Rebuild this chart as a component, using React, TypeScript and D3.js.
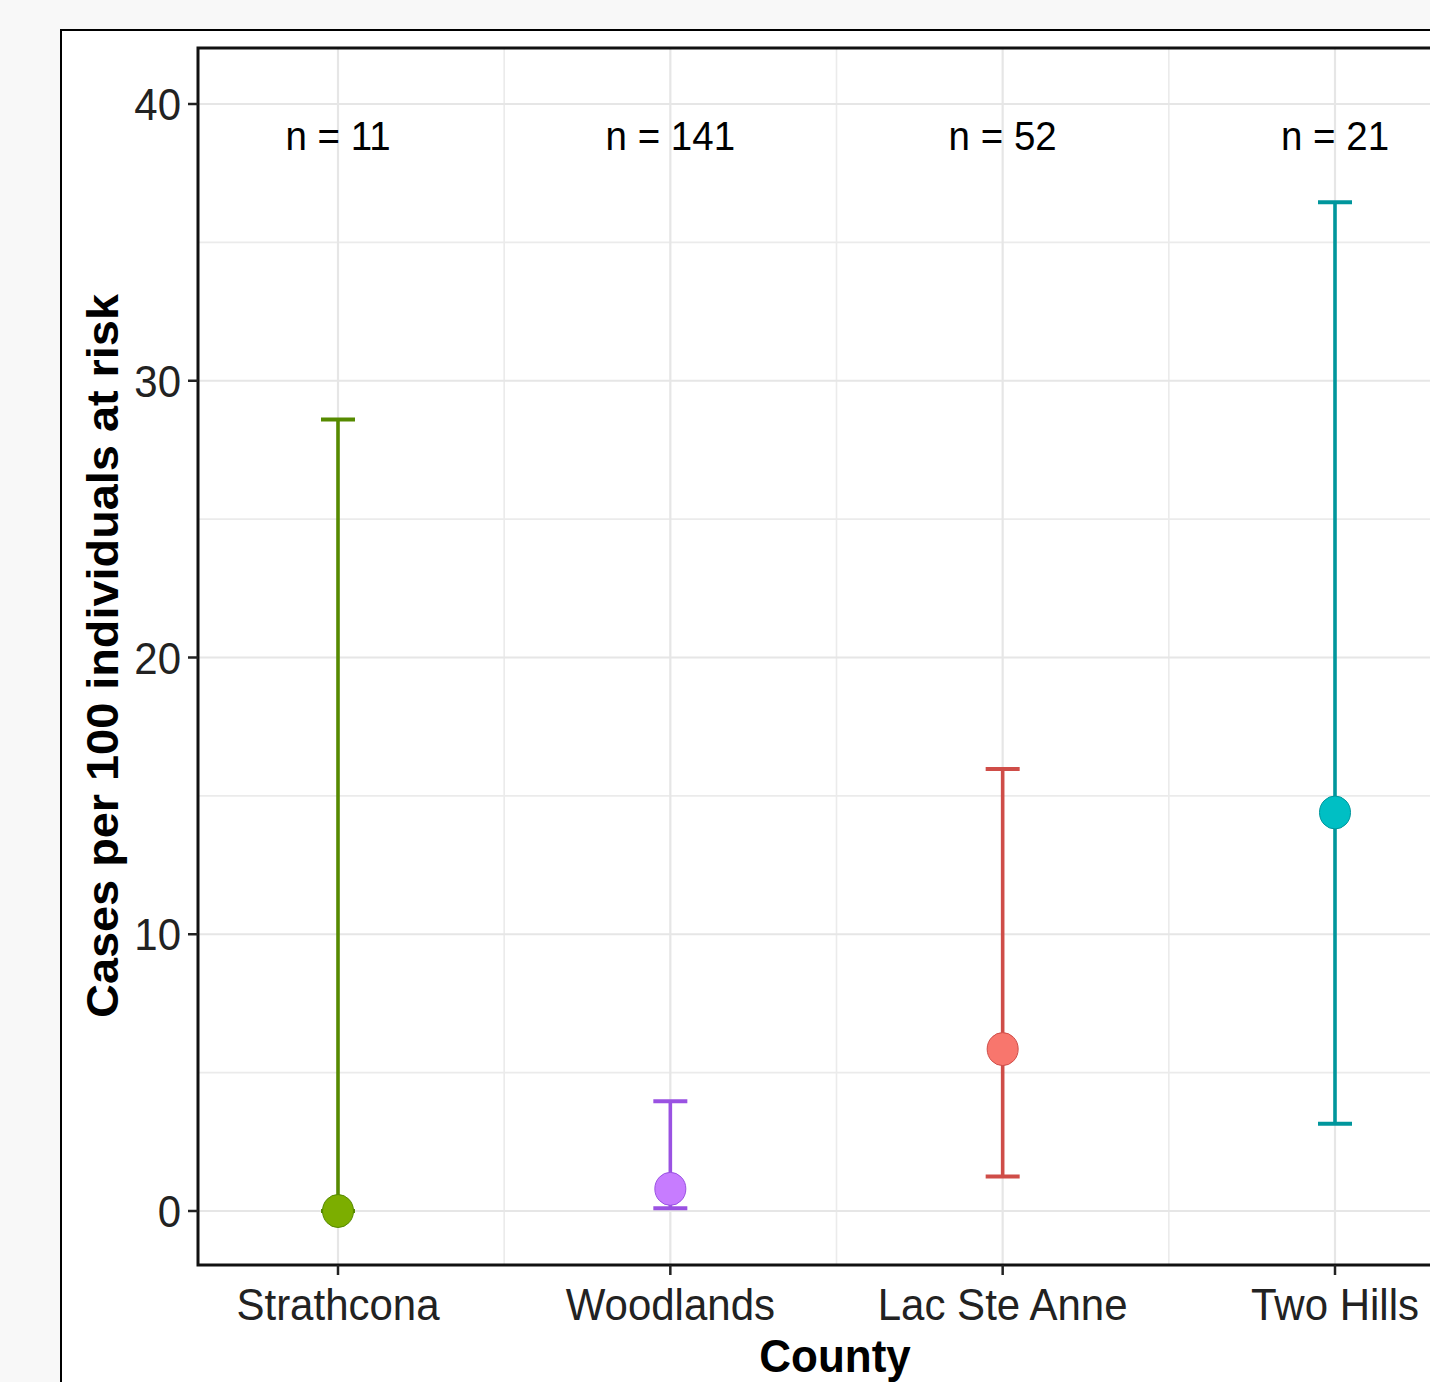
import React from "react";
import * as d3 from "d3";

const counties = ["Strathcona", "Woodlands", "Lac Ste Anne", "Two Hills"];
const estimates = [0, 0.8, 5.85, 14.4];
const lowers = [0, 0.1, 1.25, 3.15];
const uppers = [28.6, 3.97, 15.97, 36.45];
const sampleSizes = [11, 141, 52, 21];
const pointColors = ["#7CAE00", "#C77CFF", "#F8766D", "#00BFC4"];
const lineColors = ["#568a00", "#9a52e2", "#cf4d48", "#00969c"];
const yTicks = [0, 10, 20, 30, 40];
const yMinor = [5, 15, 25, 35];

const W = 1430;
const H = 1382;
const SY = 1.065;
const FONT = "'Liberation Sans', Arial, Helvetica, sans-serif";

export default function App() {
  const panel = { left: 198, top: 48, right: 1480, bottom: 1265 };
  const x = d3.scalePoint<string>().domain(counties).range([338, 1335]);
  const y = d3.scaleLinear().domain([0, 40]).range([1211, 104]);
  const step = x.step();
  const xMinor = counties.slice(0, -1).map((c) => (x(c) as number) + step / 2);
  const capHalf = 17;

  return (
    <svg
      width={W}
      height={H}
      style={{ position: "absolute", left: 0, top: 0, display: "block" }}
      fontFamily={FONT}
    >
      <rect x={0} y={0} width={W} height={H} fill="#f8f8f8" />
      <rect x={61} y={30} width={W} height={H} fill="#ffffff" stroke="#000" strokeWidth={2} />

      <rect
        x={panel.left}
        y={panel.top}
        width={panel.right - panel.left}
        height={panel.bottom - panel.top}
        fill="#fff"
      />
      {yMinor.map((t) => (
        <line key={"ym" + t} x1={panel.left} x2={panel.right} y1={y(t)} y2={y(t)} stroke="#ebebeb" strokeWidth={1.6} />
      ))}
      {xMinor.map((v, i) => (
        <line key={"xm" + i} x1={v} x2={v} y1={panel.top} y2={panel.bottom} stroke="#ebebeb" strokeWidth={1.6} />
      ))}
      {yTicks.map((t) => (
        <line key={"yg" + t} x1={panel.left} x2={panel.right} y1={y(t)} y2={y(t)} stroke="#e6e6e6" strokeWidth={2.2} />
      ))}
      {counties.map((c) => (
        <line key={"xg" + c} x1={x(c)} x2={x(c)} y1={panel.top} y2={panel.bottom} stroke="#e6e6e6" strokeWidth={2.2} />
      ))}

      {counties.map((c, i) => {
        const cx = x(c) as number;
        return (
          <g key={"eb" + c} stroke={lineColors[i]} strokeWidth={3.6} fill="none">
            <line x1={cx} x2={cx} y1={y(lowers[i])} y2={y(uppers[i])} />
            <line x1={cx - capHalf} x2={cx + capHalf} y1={y(uppers[i])} y2={y(uppers[i])} strokeWidth={4} />
            <line x1={cx - capHalf} x2={cx + capHalf} y1={y(lowers[i])} y2={y(lowers[i])} strokeWidth={4} />
          </g>
        );
      })}
      {counties.map((c, i) => (
        <ellipse
          key={"pt" + c}
          cx={x(c)}
          cy={y(estimates[i])}
          rx={15.5}
          ry={16.5}
          fill={pointColors[i]}
          stroke={lineColors[i]}
          strokeWidth={1}
        />
      ))}

      {counties.map((c, i) => (
        <text
          key={"n" + c}
          transform={`translate(${x(c)},150) scale(1,${SY})`}
          textAnchor="middle"
          fontSize={38.5}
          fill="#000"
        >
          {`n = ${sampleSizes[i]}`}
        </text>
      ))}

      <rect
        x={panel.left}
        y={panel.top}
        width={panel.right - panel.left}
        height={panel.bottom - panel.top}
        fill="none"
        stroke="#111"
        strokeWidth={3}
      />

      {yTicks.map((t) => (
        <g key={"yt" + t}>
          <line x1={188} x2={panel.left} y1={y(t)} y2={y(t)} stroke="#222" strokeWidth={2.5} />
          <text
            transform={`translate(181,${y(t)}) scale(1,${SY})`}
            textAnchor="end"
            dy="0.36em"
            fontSize={42}
            fill="#222"
          >
            {t}
          </text>
        </g>
      ))}

      {counties.map((c) => (
        <g key={"xt" + c}>
          <line x1={x(c)} x2={x(c)} y1={panel.bottom} y2={panel.bottom + 10} stroke="#222" strokeWidth={2.5} />
          <text
            transform={`translate(${x(c)},1320) scale(1,${SY})`}
            textAnchor="middle"
            fontSize={42}
            fill="#222"
          >
            {c}
          </text>
        </g>
      ))}

      <text
        transform={`translate(835,1372) scale(1,${SY})`}
        textAnchor="middle"
        fontSize={44}
        fontWeight="bold"
        fill="#000"
      >
        County
      </text>
      <text
        transform={`translate(118,656) scale(1,${SY}) rotate(-90)`}
        textAnchor="middle"
        fontSize={44}
        fontWeight="bold"
        fill="#000"
      >
        Cases per 100 individuals at risk
      </text>
    </svg>
  );
}
